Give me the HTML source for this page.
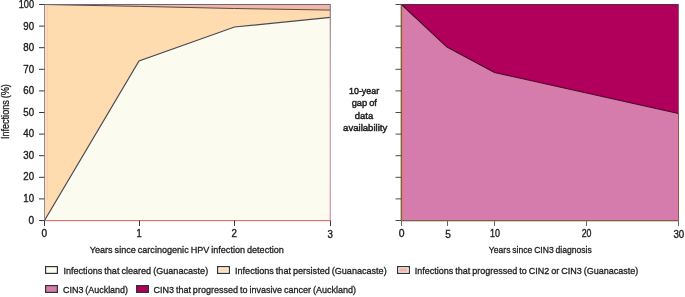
<!DOCTYPE html>
<html><head><meta charset="utf-8">
<style>
html,body{margin:0;padding:0;background:#fff;}
body{width:685px;height:297px;overflow:hidden;}
svg{display:block;will-change:transform;}
text{font-family:"Liberation Sans",sans-serif;fill:#1e1e1e;stroke:#1e1e1e;stroke-width:0.32px;word-spacing:-0.6px;}
.yl text{stroke-width:0.36px;}
.mt text{stroke-width:0.48px;}
</style></head>
<body>
<svg width="685" height="297" viewBox="0 0 685 297">
<!-- LEFT CHART -->
<!-- progressed (full rect) -->
<rect x="44.5" y="4.5" width="286" height="216" fill="#F3B5A6"/>
<!-- persisted: from cleared line up to progressed boundary -->
<polygon points="44.5,4.5 139.5,6.4 234.5,8.5 330.5,10.1 330.5,220.5 44.5,220.5" fill="#FFDCAF"/>
<!-- cleared -->
<polygon points="44.5,220.5 139,61 234.5,27 330.5,17.4 330.5,220.5" fill="#FBFBEF"/>
<!-- boundary lines -->
<line x1="47.6" y1="6" x2="47.6" y2="200" stroke="#F4B0B8" stroke-width="1" opacity="0.45"/>
<polyline points="44.5,4.5 139.5,6.4 234.5,8.5 330.5,10.1" fill="none" stroke="#5a4a4a" stroke-width="1"/>
<polyline points="44.5,220.5 139,61 234.5,27 330.5,17.4" fill="none" stroke="#4a4a52" stroke-width="1.2"/>
<!-- border bottom/right pink -->
<line x1="44.5" y1="221.5" x2="330.5" y2="221.5" stroke="#FCF0C8" stroke-width="1"/>
<line x1="44.5" y1="220.5" x2="330.5" y2="220.5" stroke="#D86C8C" stroke-width="1"/>
<defs><linearGradient id="rg" x1="0" y1="0" x2="0" y2="1"><stop offset="0" stop-color="#8a8090"/><stop offset="0.2" stop-color="#B898A8"/><stop offset="0.45" stop-color="#D49AAE"/><stop offset="1" stop-color="#D890A8"/></linearGradient></defs>
<rect x="329.7" y="4.5" width="1.2" height="216" fill="url(#rg)"/>
<line x1="44.5" y1="4.5" x2="330.5" y2="4.5" stroke="#6a6a70" stroke-width="1"/>
<!-- y axis -->
<line x1="44.5" y1="4" x2="44.5" y2="226" stroke="#8a90a0" stroke-width="1"/>
<g stroke="#3a3a3a" stroke-width="1">
<line x1="39" y1="4.5" x2="44.5" y2="4.5"/>
<line x1="39" y1="26.1" x2="44.5" y2="26.1"/>
<line x1="39" y1="47.7" x2="44.5" y2="47.7"/>
<line x1="39" y1="69.3" x2="44.5" y2="69.3"/>
<line x1="39" y1="90.9" x2="44.5" y2="90.9"/>
<line x1="39" y1="112.5" x2="44.5" y2="112.5"/>
<line x1="39" y1="134.1" x2="44.5" y2="134.1"/>
<line x1="39" y1="155.7" x2="44.5" y2="155.7"/>
<line x1="39" y1="177.3" x2="44.5" y2="177.3"/>
<line x1="39" y1="198.9" x2="44.5" y2="198.9"/>
<line x1="39" y1="220.5" x2="44.5" y2="220.5"/>
<line x1="44.5" y1="220.5" x2="44.5" y2="226"/>
<line x1="139.5" y1="220.5" x2="139.5" y2="226"/>
<line x1="234.5" y1="220.5" x2="234.5" y2="226"/>
<line x1="330.5" y1="220.5" x2="330.5" y2="226"/>
</g>
<g font-size="10.2" text-anchor="end" class="yl">
<text x="34.1" y="8.10" textLength="15.4" lengthAdjust="spacingAndGlyphs">100</text>
<text x="34.1" y="29.64" textLength="10.8" lengthAdjust="spacingAndGlyphs">90</text>
<text x="34.1" y="51.18" textLength="10.8" lengthAdjust="spacingAndGlyphs">80</text>
<text x="34.1" y="72.72" textLength="10.8" lengthAdjust="spacingAndGlyphs">70</text>
<text x="34.1" y="94.26" textLength="10.8" lengthAdjust="spacingAndGlyphs">60</text>
<text x="34.1" y="115.80" textLength="10.8" lengthAdjust="spacingAndGlyphs">50</text>
<text x="34.1" y="137.34" textLength="10.8" lengthAdjust="spacingAndGlyphs">40</text>
<text x="34.1" y="158.88" textLength="10.8" lengthAdjust="spacingAndGlyphs">30</text>
<text x="34.1" y="180.42" textLength="10.8" lengthAdjust="spacingAndGlyphs">20</text>
<text x="34.1" y="201.96" textLength="10.8" lengthAdjust="spacingAndGlyphs">10</text>
<text x="34.1" y="223.50" textLength="5.6" lengthAdjust="spacingAndGlyphs">0</text>
</g>
<g font-size="10" text-anchor="middle" class="yl">
<text x="44.2" y="237.2" textLength="5.6" lengthAdjust="spacingAndGlyphs">0</text>
<text x="139.2" y="237.2" textLength="5.2" lengthAdjust="spacingAndGlyphs">1</text>
<text x="234.3" y="237.2" textLength="5.4" lengthAdjust="spacingAndGlyphs">2</text>
<text x="330.3" y="238.4" textLength="5.4" lengthAdjust="spacingAndGlyphs">3</text>
</g>
<text x="89.8" y="253.2" font-size="9.9" textLength="194" lengthAdjust="spacingAndGlyphs">Years since carcinogenic HPV infection detection</text>
<text transform="translate(9.2,139.1) rotate(-90)" font-size="10.2" textLength="55" lengthAdjust="spacingAndGlyphs">Infections (%)</text>

<!-- MIDDLE TEXT -->
<g font-size="9.8" text-anchor="middle" class="mt">
<text x="364.1" y="93.6" textLength="30.2" lengthAdjust="spacingAndGlyphs">10-year</text>
<text x="364.3" y="106.1" textLength="25.3" lengthAdjust="spacingAndGlyphs">gap of</text>
<text x="364" y="118.8" textLength="18.4" lengthAdjust="spacingAndGlyphs">data</text>
<text x="365.2" y="131.2" textLength="44.2" lengthAdjust="spacingAndGlyphs">availability</text>
</g>

<!-- RIGHT CHART -->
<rect x="401.5" y="4.5" width="277" height="216" fill="#B0005C"/>
<polygon points="401.5,4.5 447,47.1 494.5,72.5 678.5,113.5 678.5,220.5 401.5,220.5" fill="#D67CAD"/>
<polyline points="406,13 406,60" fill="none" stroke="#E8905A" stroke-width="1" stroke-dasharray="1.2 6" opacity="0.45"/>
<polyline points="405,12 445,51 493,77 676,118" fill="none" stroke="#E8905A" stroke-width="1.1" stroke-dasharray="1.5 5" opacity="0.5"/>
<polyline points="401.5,4.5 447,47.1 494.5,72.5 678.5,113.5" fill="none" stroke="#4a0828" stroke-width="1.15"/>
<line x1="400.5" y1="4.5" x2="400.5" y2="221" stroke="#C0CCC4" stroke-width="1"/>
<line x1="401" y1="221.5" x2="678.5" y2="221.5" stroke="#C8D4CC" stroke-width="1"/>
<line x1="402.6" y1="8" x2="402.6" y2="219.5" stroke="#D88050" stroke-width="1" opacity="0.8"/>
<polyline points="401.5,4.5 401.5,220.5 678.5,220.5 678.5,113.5" fill="none" stroke="#94583E" stroke-width="1"/>
<line x1="401" y1="4.5" x2="678.5" y2="4.5" stroke="#5a2a44" stroke-width="1"/>
<line x1="678.4" y1="4.5" x2="678.4" y2="113.5" stroke="#8a3a60" stroke-width="0.8"/>
<g stroke="#47524f" stroke-width="1">
<line x1="395.5" y1="4.5" x2="401.5" y2="4.5"/>
<line x1="395.5" y1="26.1" x2="401.5" y2="26.1"/>
<line x1="395.5" y1="47.7" x2="401.5" y2="47.7"/>
<line x1="395.5" y1="69.3" x2="401.5" y2="69.3"/>
<line x1="395.5" y1="90.9" x2="401.5" y2="90.9"/>
<line x1="395.5" y1="112.5" x2="401.5" y2="112.5"/>
<line x1="395.5" y1="134.1" x2="401.5" y2="134.1"/>
<line x1="395.5" y1="155.7" x2="401.5" y2="155.7"/>
<line x1="395.5" y1="177.3" x2="401.5" y2="177.3"/>
<line x1="395.5" y1="198.9" x2="401.5" y2="198.9"/>
<line x1="395.5" y1="220.5" x2="401.5" y2="220.5"/>
<g stroke="#5a6e6e"><line x1="401.5" y1="220.5" x2="401.5" y2="226"/>
<line x1="447.5" y1="220.5" x2="447.5" y2="226"/>
<line x1="494.5" y1="220.5" x2="494.5" y2="226"/>
<line x1="586.5" y1="220.5" x2="586.5" y2="226"/>
<line x1="678.5" y1="220.5" x2="678.5" y2="226"/></g>
</g>
<g font-size="10" text-anchor="middle" class="yl">
<text x="401.6" y="237.2" textLength="5.8" lengthAdjust="spacingAndGlyphs">0</text>
<text x="448" y="238.2" textLength="5.6" lengthAdjust="spacingAndGlyphs">5</text>
<text x="494.9" y="237.2" textLength="10" lengthAdjust="spacingAndGlyphs">10</text>
<text x="586.6" y="237.2" textLength="9.8" lengthAdjust="spacingAndGlyphs">20</text>
<text x="678.8" y="238" textLength="10.8" lengthAdjust="spacingAndGlyphs">30</text>
</g>
<text x="488.8" y="253.2" font-size="9.9" textLength="103" lengthAdjust="spacingAndGlyphs">Years since CIN3 diagnosis</text>

<!-- LEGEND -->
<g stroke="#333" stroke-width="1.2">
<rect x="45.6" y="266.6" width="11.8" height="6.8" fill="#fff"/>
<rect x="217.6" y="266.6" width="11.8" height="6.8" fill="#fff"/>
<rect x="397.6" y="266.6" width="11.8" height="6.8" fill="#fff"/>
<rect x="45.6" y="285.6" width="11.8" height="6.8" fill="#D67CAD"/>
<rect x="136.6" y="285.6" width="11.8" height="6.8" fill="#B0005C"/>
</g>
<rect x="47.2" y="268.2" width="8.4" height="3.6" fill="#FBFBEF"/>
<rect x="219.2" y="268.2" width="8.4" height="3.6" fill="#FFDCAF"/>
<rect x="399.2" y="268.2" width="8.4" height="3.6" fill="#F3B5A6"/>
<g font-size="9.9">
<text x="63.4" y="274" textLength="144.8" lengthAdjust="spacingAndGlyphs">Infections that cleared (Guanacaste)</text>
<text x="235" y="274" textLength="151.7" lengthAdjust="spacingAndGlyphs">Infections that persisted (Guanacaste)</text>
<text x="414.7" y="274" textLength="223.6" lengthAdjust="spacingAndGlyphs">Infections that progressed to CIN2 or CIN3 (Guanacaste)</text>
<text x="63" y="293" textLength="65" lengthAdjust="spacingAndGlyphs">CIN3 (Auckland)</text>
<text x="153.4" y="293" textLength="202.6" lengthAdjust="spacingAndGlyphs">CIN3 that progressed to invasive cancer (Auckland)</text>
</g>
</svg>
</body></html>
